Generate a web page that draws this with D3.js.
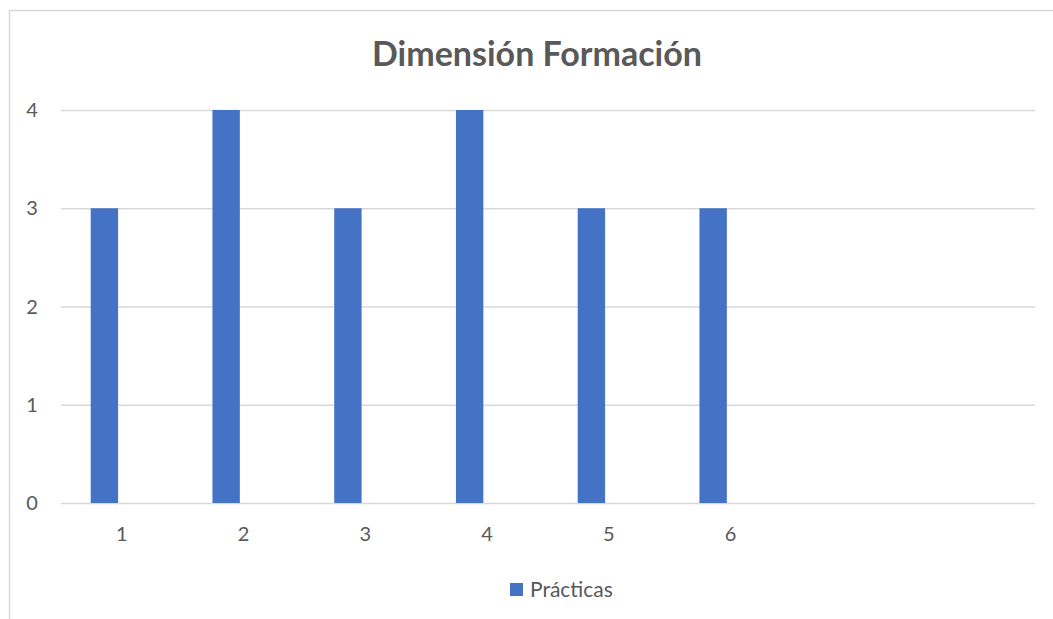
<!DOCTYPE html>
<html>
<head>
<meta charset="utf-8">
<script src="https://cdn.jsdelivr.net/npm/d3@7.9.0/dist/d3.min.js"></script>
<style>
  body { margin: 0; background: #fff; }
  svg { display: block; font-family: Lato, "Open Sans", sans-serif; }
</style>
</head>
<body>
<svg width="1053" height="619"></svg>
<script>
const categories = [1, 2, 3, 4, 5, 6, 7, 8];
const labels = ['1', '2', '3', '4', '5', '6', '', ''];
const practicas = [3, 4, 3, 4, 3, 3, null, null];
const yTicks = [0, 1, 2, 3, 4];
const seriesName = 'Prácticas';
const title = 'Dimensión Formación';

const svg = d3.select('svg');
const margin = { top: 110, right: 18, bottom: 116, left: 61 };
const width = 1053 - margin.left - margin.right;
const height = 619 - margin.top - margin.bottom;

// chart frame
svg.append('rect')
  .attr('x', 9.5).attr('y', 10.5)
  .attr('width', 1100).attr('height', 700)
  .attr('fill', 'none').attr('stroke', '#d9d9d9').attr('stroke-width', 1.5);

const g = svg.append('g').attr('transform', `translate(${margin.left},${margin.top})`);

let x = d3.scaleBand().domain(categories).range([0, width]).padding(0);
let y = d3.scaleLinear().domain([0, 4]).range([height, 0]);

// gridlines
g.append('g')
  .call(d3.axisLeft(y).tickValues(yTicks).tickSize(-width).tickFormat(''))
  .call(a => a.select('.domain').remove())
  .selectAll('line').attr('stroke', '#d9d9d9').attr('stroke-width', 1.5);

// y labels
g.selectAll('.ylab').data(yTicks).enter().append('text')
  .attr('x', -29).attr('y', d => y(d))
  .attr('dy', '0.35em')
  .attr('text-anchor', 'middle')
  .attr('fill', '#595959').attr('font-size', 20)
  .text(d => d);

// bars (first slot of a two-slot cluster)
const bw = x.bandwidth();
g.selectAll('.bar').data(categories.filter((c, i) => practicas[i] != null)).enter().append('rect')
  .attr('x', c => x(c) + bw * 0.244)
  .attr('width', bw * 0.225)
  .attr('y', c => y(practicas[c - 1]))
  .attr('height', c => height - y(practicas[c - 1]))
  .attr('fill', '#4472c4');

// x labels
g.selectAll('.xlab').data(categories).enter().append('text')
  .attr('x', c => x(c) + bw / 2)
  .attr('y', height + 31)
  .attr('dy', '0.35em')
  .attr('text-anchor', 'middle')
  .attr('fill', '#595959').attr('font-size', 20)
  .text((c, i) => labels[i]);

// title
svg.append('text')
  .attr('x', 537).attr('y', 66)
  .attr('text-anchor', 'middle')
  .attr('fill', '#595959').attr('font-size', 34).attr('font-weight', 'bold')
  .text(title);

// legend
const lg = svg.append('g').attr('transform', 'translate(510,583)');
lg.append('rect').attr('width', 13).attr('height', 13).attr('fill', '#4472c4');
lg.append('text').attr('x', 20).attr('y', 14)
  .attr('fill', '#595959').attr('font-size', 21)
  .text(seriesName);
</script>
</body>
</html>
